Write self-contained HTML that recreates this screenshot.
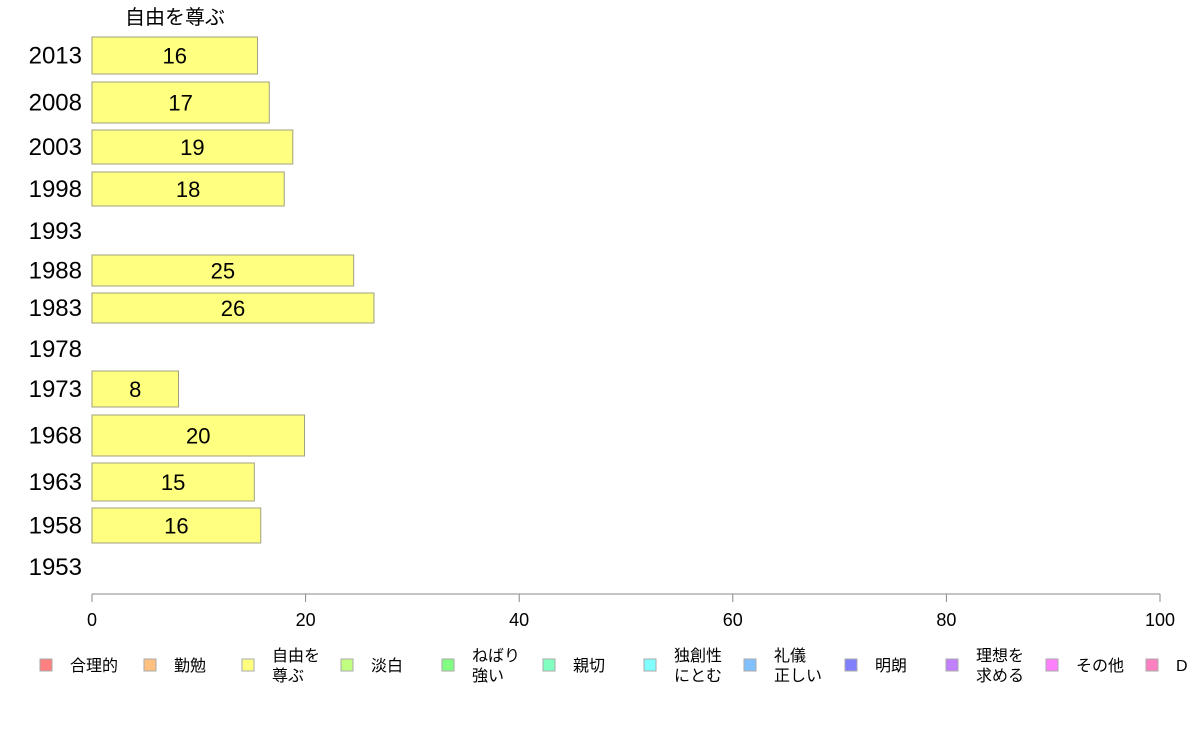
<!DOCTYPE html>
<html><head><meta charset="utf-8"><style>
body{margin:0;background:#fff;}
svg{display:block;font-family:"Liberation Sans","Noto Sans CJK JP",sans-serif;}
</style></head><body>
<svg id="chart" width="1188" height="736" viewBox="0 0 1188 736">
<text x="175" y="24" font-size="20" text-anchor="middle" fill="#000">自由を尊ぶ</text>
<g id="bars"></g>
<g id="axis"></g>
<g id="legend"></g>
</svg>
<script>
const years = ["2013","2008","2003","1998","1993","1988","1983","1978","1973","1968","1963","1958","1953"];
const values = [15.5,16.6,18.8,18.0,null,24.5,26.4,null,8.1,19.9,15.2,15.8,null];
const valueLabels = ["16","17","19","18","","25","26","","8","20","15","16",""];
const ticks = [0,20,40,60,80,100];
const legendNames = [["合理的"],["勤勉"],["自由を","尊ぶ"],["淡白"],["ねばり","強い"],["親切"],["独創性","にとむ"],["礼儀","正しい"],["明朗"],["理想を","求める"],["その他"],["D"]];
const legendColors = ["#ff8080","#ffc080","#ffff80","#c0ff80","#80ff80","#80ffc0","#80ffff","#80c0ff","#8080ff","#c080ff","#ff80ff","#ff80c0"];
const rowTop = [37,82,130,172,214,255,293,333,371,415,463,508,550];
const rowBot = [74,123,164,206,248,286,323,365,407,456,501,543,584];
const NS="http://www.w3.org/2000/svg";
const x0=92,x1=1160;
const xs=v=>x0+(x1-x0)*v/100;
function mk(t,a,p){const e=document.createElementNS(NS,t);for(const k in a)e.setAttribute(k,a[k]);p.appendChild(e);return e;}
const bars=document.getElementById('bars');
years.forEach((y,i)=>{
  const mid=(rowTop[i]+rowBot[i])/2;
  const t=mk('text',{x:82,y:mid+8,'font-size':24,'text-anchor':'end',fill:'#000'},bars);
  t.textContent=y;
  
  
  if(values[i]!=null){
    const r=mk('rect',{x:x0,y:rowTop[i],width:xs(values[i])-x0,height:rowBot[i]-rowTop[i],fill:'#ffff80',stroke:'#a0a080','stroke-width':1},bars);
    
    
    const l=mk('text',{x:(x0+xs(values[i]))/2,y:mid+8,'font-size':22,'text-anchor':'middle',fill:'#000'},bars);
    l.textContent=valueLabels[i];
    
    
  }
});
const ax=document.getElementById('axis');
const al=mk('line',{x1:x0,y1:594,x2:x1,y2:594,stroke:'#888','stroke-width':1},ax);


ticks.forEach(v=>{
  const tl=mk('line',{x1:xs(v),y1:594,x2:xs(v),y2:602,stroke:'#888'},ax);
  
  
  const tt=mk('text',{x:xs(v),y:626,'font-size':18,'text-anchor':'middle',fill:'#000'},ax);
  tt.textContent=v;
  
  
});
const lg=document.getElementById('legend');
const lx=[40,144,242,341,442,543,644,744,845,946,1046,1146];
legendNames.forEach((n,i)=>{
  const g=mk('g',{},lg);
  
  
  mk('rect',{x:lx[i],y:659,width:12,height:12,fill:legendColors[i],stroke:'#aaa','stroke-width':1},g);
  if(n.length==1){
    const t=mk('text',{x:lx[i]+30,y:671,'font-size':16,fill:'#000'},g);t.textContent=n[0];
  }else{
    n.forEach((s,j)=>{const t=mk('text',{x:lx[i]+30,y:661+j*20,'font-size':16,fill:'#000'},g);t.textContent=s;});
  }
});
</script>
</body></html>
